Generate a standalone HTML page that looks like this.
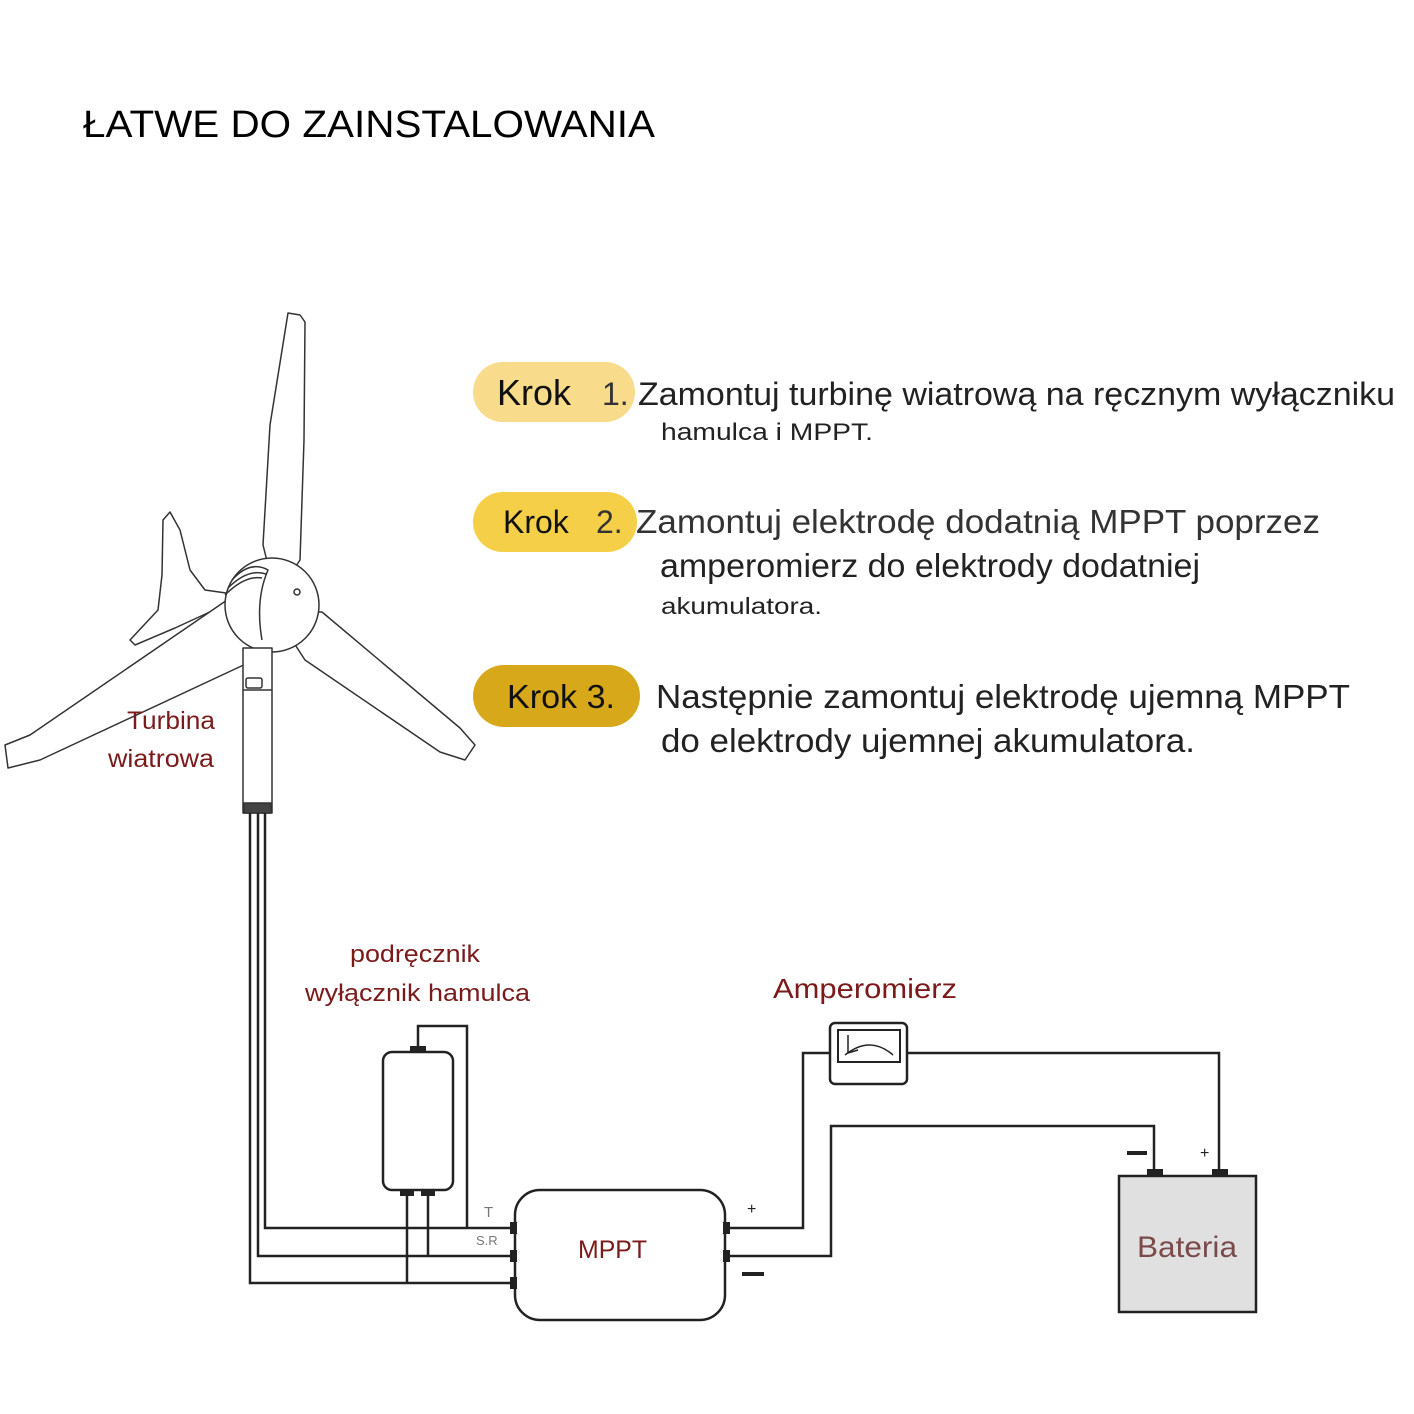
<!DOCTYPE html>
<html><head><meta charset="utf-8"><style>
html,body{margin:0;padding:0;background:#fff;}
svg{display:block;}
text{font-family:"Liberation Sans",sans-serif;}
</style></head><body>
<svg width="1414" height="1414" viewBox="0 0 1414 1414" xmlns="http://www.w3.org/2000/svg">
<rect width="1414" height="1414" fill="#fff"/>
<text x="83" y="137" font-size="38" fill="#000" textLength="572" lengthAdjust="spacingAndGlyphs">ŁATWE DO ZAINSTALOWANIA</text>

<rect x="473" y="362" width="162" height="60" rx="30" fill="#f8dc8c"/>
<rect x="473" y="492" width="164" height="60" rx="30" fill="#f6cf48"/>
<rect x="473" y="665" width="167" height="62" rx="31" fill="#d6a81a"/>

<text x="497" y="405" font-size="36" fill="#111">Krok</text>
<text x="602" y="405" font-size="32" fill="#333">1.</text>
<text x="638" y="405" font-size="32" fill="#222" textLength="757" lengthAdjust="spacingAndGlyphs">Zamontuj turbinę wiatrową na ręcznym wyłączniku</text>
<text x="661" y="440" font-size="24" fill="#222" textLength="212" lengthAdjust="spacingAndGlyphs">hamulca i MPPT.</text>

<text x="503" y="533" font-size="32" fill="#111">Krok</text>
<text x="596" y="533" font-size="32" fill="#333">2.</text>
<text x="636" y="533" font-size="33" fill="#333" textLength="684" lengthAdjust="spacingAndGlyphs">Zamontuj elektrodę dodatnią MPPT poprzez</text>
<text x="660" y="577" font-size="33" fill="#222" textLength="540" lengthAdjust="spacingAndGlyphs">amperomierz do elektrody dodatniej</text>
<text x="661" y="614" font-size="23" fill="#222" textLength="161" lengthAdjust="spacingAndGlyphs">akumulatora.</text>

<text x="507" y="708" font-size="33" fill="#111" textLength="108" lengthAdjust="spacingAndGlyphs">Krok 3.</text>
<text x="656" y="708" font-size="33" fill="#222" textLength="694" lengthAdjust="spacingAndGlyphs">Następnie zamontuj elektrodę ujemną MPPT</text>
<text x="661" y="752" font-size="33" fill="#222" textLength="534" lengthAdjust="spacingAndGlyphs">do elektrody ujemnej akumulatora.</text>

<g fill="#fff" stroke="#333" stroke-width="1.5" stroke-linejoin="round">
  <path d="M170,512 L163,520 L162,575 L158,610 L130,640 L135,645 L175,628 L225,605 L240,595 L205,590 L190,570 L180,530 Z"/>
  <path d="M230,598 L30,735 L5,745 L8,768 L40,760 L250,662 L262,640 Z"/>
  <path d="M300,612 L322,612 L460,728 L475,745 L465,760 L440,752 L305,660 L292,640 Z"/>
  <path d="M268,565 L263,545 L270,425 L288,313 L300,315 L305,322 L304,440 L300,560 L290,575 Z"/>
  <circle cx="272" cy="605" r="47"/>
  <path d="M232,580 Q250,560 268,570 Q255,600 262,640" fill="none"/>
  <path d="M225,595 Q245,575 262,578" fill="none"/>
  <path d="M228,588 Q248,568 266,574" fill="none"/>
  <rect x="243" y="648" width="29" height="165"/>
  <line x1="243" y1="690" x2="272" y2="690"/>
  <rect x="246" y="678" width="16" height="10" rx="2"/>
  <rect x="244" y="803" width="27" height="10" fill="#444"/>
  <circle cx="297" cy="592" r="3"/>
</g>
<text x="127" y="729" font-size="25" fill="#7a1a1a" textLength="88" lengthAdjust="spacingAndGlyphs">Turbina</text>
<text x="108" y="767" font-size="25" fill="#7a1a1a" textLength="106" lengthAdjust="spacingAndGlyphs">wiatrowa</text>

<g fill="none" stroke="#222" stroke-width="2.5">
  <polyline points="250,813 250,1283 515,1283"/>
  <polyline points="258,813 258,1256 515,1256"/>
  <polyline points="265,813 265,1228 515,1228"/>
  <polyline points="418,1050 418,1026 467,1026 467,1228"/>
  <polyline points="407,1190 407,1283"/>
  <polyline points="428,1190 428,1256"/>
  <polyline points="725,1228 803,1228 803,1053 830,1053"/>
  <polyline points="907,1053 1219,1053 1219,1173"/>
  <polyline points="725,1256 831,1256 831,1126 1154,1126 1154,1173"/>
</g>

<rect x="383" y="1052" width="70" height="138" rx="9" fill="#fff" stroke="#222" stroke-width="2.5"/>
<rect x="410" y="1046" width="16" height="7" fill="#222"/>
<rect x="400" y="1189" width="14" height="7" fill="#222"/>
<rect x="421" y="1189" width="14" height="7" fill="#222"/>
<text x="350" y="962" font-size="24" fill="#7a1a1a" textLength="130" lengthAdjust="spacingAndGlyphs">podręcznik</text>
<text x="305" y="1001" font-size="24" fill="#7a1a1a" textLength="225" lengthAdjust="spacingAndGlyphs">wyłącznik hamulca</text>

<rect x="515" y="1190" width="210" height="130" rx="25" fill="#fff" stroke="#222" stroke-width="2.5"/>
<g fill="#222">
  <rect x="510" y="1222" width="7" height="12"/><rect x="510" y="1250" width="7" height="12"/><rect x="510" y="1277" width="7" height="12"/>
  <rect x="723" y="1222" width="7" height="12"/><rect x="723" y="1250" width="7" height="12"/>
</g>
<text x="578" y="1258" font-size="25" fill="#7a1a1a" textLength="69" lengthAdjust="spacingAndGlyphs">MPPT</text>
<text x="484" y="1217" font-size="15" fill="#777">T</text>
<text x="476" y="1245" font-size="13" fill="#777">S.R</text>
<text x="747" y="1214" font-size="16" fill="#222">+</text>
<rect x="742" y="1272" width="22" height="4" fill="#222"/>

<text x="773" y="998" font-size="28" fill="#7a1a1a" textLength="184" lengthAdjust="spacingAndGlyphs">Amperomierz</text>
<rect x="830" y="1023" width="77" height="61" rx="5" fill="#fff" stroke="#222" stroke-width="2.5"/>
<rect x="838" y="1030" width="62" height="32" fill="#fff" stroke="#222" stroke-width="2"/>
<path d="M845,1055 Q870,1035 893,1055" fill="none" stroke="#222" stroke-width="1.5"/>
<path d="M848,1035 L848,1053 L858,1050" fill="none" stroke="#222" stroke-width="1.5"/>

<rect x="1119" y="1176" width="137" height="136" fill="#e0e0e0" stroke="#222" stroke-width="2.5"/>
<rect x="1147" y="1169" width="16" height="8" fill="#222"/>
<rect x="1212" y="1169" width="16" height="8" fill="#222"/>
<rect x="1127" y="1151" width="20" height="4" fill="#222"/>
<text x="1200" y="1158" font-size="16" fill="#222">+</text>
<text x="1137" y="1257" font-size="30" fill="#7a4a4a" textLength="100" lengthAdjust="spacingAndGlyphs">Bateria</text>
</svg>
</body></html>
